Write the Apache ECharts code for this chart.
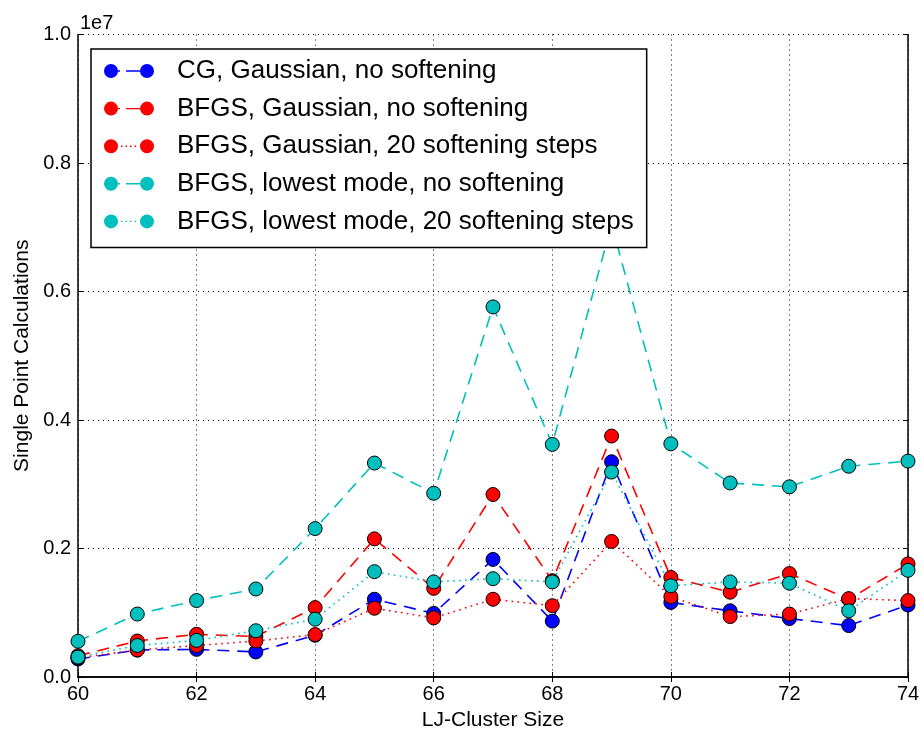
<!DOCTYPE html>
<html>
<head>
<meta charset="utf-8">
<script src="https://cdn.jsdelivr.net/npm/echarts@6/dist/echarts.min.js"></script>
<style>html,body{margin:0;padding:0;background:#fff}#c{width:924px;height:736px}</style>
</head>
<body>
<div id="c"></div>
<script>
const clusterSizes = [60,61,62,63,64,65,66,67,68,69,70,71,72,73,74];
const cgGaussNoSoft = [0.28e6,0.42e6,0.43e6,0.39e6,0.65e6,1.21e6,0.99e6,1.83e6,0.87e6,3.35e6,1.16e6,1.03e6,0.91e6,0.80e6,1.12e6];
const bfgsGaussNoSoft = [0.33e6,0.56e6,0.665e6,0.63e6,1.08e6,2.15e6,1.38e6,2.84e6,1.50e6,3.75e6,1.55e6,1.32e6,1.61e6,1.21e6,1.76e6];
const bfgsGauss20Soft = [0.30e6,0.42e6,0.49e6,0.56e6,0.66e6,1.07e6,0.92e6,1.21e6,1.11e6,2.11e6,1.25e6,0.94e6,0.98e6,1.22e6,1.19e6];
const bfgsLowModeNoSoft = [0.556e6,0.98e6,1.19e6,1.37e6,2.31e6,3.33e6,2.86e6,5.76e6,3.62e6,7.05e6,3.63e6,3.02e6,2.96e6,3.28e6,3.36e6];
const bfgsLowMode20Soft = [0.31e6,0.49e6,0.57e6,0.72e6,0.90e6,1.64e6,1.48e6,1.53e6,1.48e6,3.19e6,1.42e6,1.48e6,1.46e6,1.03e6,1.66e6];
const yTickLabels = ['0.0','0.2','0.4','0.6','0.8','1.0'];

const seriesDefs = [
  {name:'CG, Gaussian, no softening', data:cgGaussNoSoft, color:'#0000ff', dash:'dashed'},
  {name:'BFGS, Gaussian, no softening', data:bfgsGaussNoSoft, color:'#ff0000', dash:'dashed'},
  {name:'BFGS, Gaussian, 20 softening steps', data:bfgsGauss20Soft, color:'#ff0000', dash:'dotted'},
  {name:'BFGS, lowest mode, no softening', data:bfgsLowModeNoSoft, color:'#00bfbf', dash:'dashed'},
  {name:'BFGS, lowest mode, 20 softening steps', data:bfgsLowMode20Soft, color:'#00bfbf', dash:'dotted'}
];

const FONT = 'Liberation Sans';
const dashedIcon = 'path://M0,7A7,7 0 1,1 14,7A7,7 0 1,1 0,7Z M14,6.3H16V7.7H14Z M22,6.3H36V7.7H22Z M36,7A7,7 0 1,1 50,7A7,7 0 1,1 36,7Z';
const dottedIcon = 'path://M0,7A7,7 0 1,1 14,7A7,7 0 1,1 0,7Z M17,6.3H18.6V7.7H17Z M21.5,6.3H23.1V7.7H21.5Z M26,6.3H27.6V7.7H26Z M30.5,6.3H32.1V7.7H30.5Z M36,7A7,7 0 1,1 50,7A7,7 0 1,1 36,7Z';

const chart = echarts.init(document.getElementById('c'), null, {renderer:'canvas'});
const grid = {left:78, right:16, top:34.5, bottom:57.5};

chart.setOption({
  animation:false,
  backgroundColor:'#ffffff',
  textStyle:{fontFamily:FONT},
  title:{text:'1e7', left:75, top:8, textStyle:{fontFamily:FONT, fontSize:20, fontWeight:'normal', color:'#000'}},
  grid:grid,
  legend:{
    left:91, top:49, orient:'vertical', z:10,
    backgroundColor:'#fff', borderColor:'#000', borderWidth:1.5, borderRadius:0,
    padding:[9,13,13,13], itemGap:11.6, itemWidth:52, itemHeight:14,
    textStyle:{fontFamily:FONT, fontSize:26, color:'#000', padding:[0,0,0,17]},
    itemStyle:{borderWidth:0},
    data: seriesDefs.map(s=>({name:s.name, icon: s.dash==='dashed'?dashedIcon:dottedIcon}))
  },
  xAxis:[{
    type:'value', min:60, max:74, interval:2,
    name:'LJ-Cluster Size', nameLocation:'middle', nameGap:33,
    nameTextStyle:{fontFamily:FONT, fontSize:21, color:'#000'},
    axisLine:{show:true, lineStyle:{color:'#000', width:1.5}},
    axisTick:{show:true, inside:true, length:5, lineStyle:{color:'#000'}},
    axisLabel:{fontFamily:FONT, fontSize:20, color:'#000', margin:7},
    splitLine:{show:true, lineStyle:{color:'#000', type:[1,4], width:1}}
  },{
    type:'value', position:'top', min:60, max:74, interval:2,
    axisLine:{show:true, lineStyle:{color:'#000', width:1.5}},
    axisTick:{show:true, inside:true, length:5, lineStyle:{color:'#000'}},
    axisLabel:{show:false}, splitLine:{show:false}
  }],
  yAxis:[{
    type:'value', min:0, max:1e7, interval:2e6,
    name:'Single Point Calculations', nameLocation:'middle', nameGap:45,
    nameTextStyle:{fontFamily:FONT, fontSize:21, color:'#000'},
    axisLine:{show:true, lineStyle:{color:'#000', width:1.5}},
    axisTick:{show:true, inside:true, length:5, lineStyle:{color:'#000'}},
    axisLabel:{fontFamily:FONT, fontSize:20, color:'#000', margin:7,
      formatter:(v)=>yTickLabels[Math.round(v/2e6)]},
    splitLine:{show:true, lineStyle:{color:'#000', type:[1,4], width:1}}
  },{
    type:'value', position:'right', min:0, max:1e7, interval:2e6,
    axisLine:{show:true, lineStyle:{color:'#000', width:1.5}},
    axisTick:{show:true, inside:true, length:5, lineStyle:{color:'#000'}},
    axisLabel:{show:false}, splitLine:{show:false}
  }],
  series: seriesDefs.map(s=>({
    name:s.name, type:'line', xAxisIndex:0, yAxisIndex:0,
    data: clusterSizes.map((x,i)=>[x, s.data[i]]),
    symbol:'circle', symbolSize:14, clip:true,
    lineStyle:{color:s.color, width:1.6, type: s.dash==='dashed'?[12,8]:[1.6,4.4]},
    itemStyle:{color:s.color, borderColor:'#000', borderWidth:1}
  }))
});
</script>
</body>
</html>
